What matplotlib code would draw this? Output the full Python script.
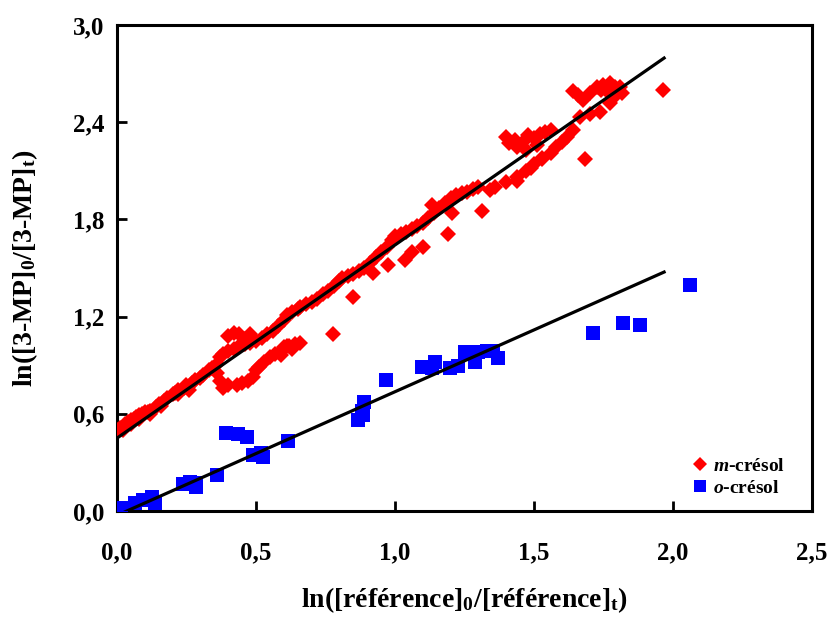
import matplotlib
matplotlib.use("Agg")
import matplotlib.pyplot as plt
import numpy as np
from matplotlib.ticker import FuncFormatter, FixedLocator

plt.rcParams['font.family'] = ['Liberation Serif', 'DejaVu Serif']
plt.rcParams['font.weight'] = 'bold'
plt.rcParams['mathtext.fontset'] = 'custom'
plt.rcParams['mathtext.rm'] = 'Liberation Serif:bold'
plt.rcParams['mathtext.bf'] = 'Liberation Serif:bold'
plt.rcParams['mathtext.it'] = 'Liberation Serif:italic:bold'

# m-crésol data (red diamonds)
m_x = [0.00, 0.01, 0.02, 0.02, 0.03, 0.04, 0.05, 0.05, 0.06, 0.07, 0.08, 0.08, 0.09, 0.10,
       0.11, 0.12, 0.12, 0.14, 0.15, 0.16, 0.17, 0.18, 0.20, 0.21, 0.22, 0.22, 0.24, 0.25,
       0.26, 0.27, 0.28, 0.30, 0.31, 0.33, 0.34, 0.36,
       0.37, 0.38, 0.40, 0.42, 0.44, 0.46, 0.48, 0.50, 0.52, 0.54, 0.56, 0.58, 0.60, 0.61,
       0.63, 0.65, 0.40, 0.42, 0.44, 0.48, 0.46,
       0.37, 0.36, 0.38, 0.40, 0.43, 0.45, 0.47, 0.49, 0.50, 0.51, 0.53, 0.55, 0.57, 0.59,
       0.60, 0.61, 0.62, 0.64, 0.66, 0.59, 0.63,
       0.66, 0.68, 0.70, 0.72, 0.74, 0.76, 0.78, 0.80, 0.81, 0.83, 0.85, 0.87, 0.89, 0.91,
       0.93, 0.95, 0.97, 0.99, 1.00, 1.02, 1.04, 1.06, 1.08, 1.10, 1.12, 1.14, 1.16, 1.18,
       1.20, 1.22, 1.24,
       0.777, 0.85, 0.92, 0.975, 1.036, 1.06, 1.10, 1.19, 1.205, 1.133,
       1.26, 1.28, 1.30, 1.34, 1.36, 1.40, 1.44, 1.47, 1.50, 1.53, 1.56, 1.58, 1.60, 1.62,
       1.313, 1.40, 1.41, 1.43, 1.44, 1.46, 1.48, 1.50, 1.52, 1.54, 1.56, 1.47, 1.51,
       1.44, 1.49, 1.53,
       1.64, 1.665, 1.70, 1.737, 1.773, 1.79,
       1.64, 1.66, 1.676, 1.70, 1.726, 1.75, 1.773, 1.79, 1.81, 1.816, 1.74, 1.76,
       1.683, 1.964]
m_y = [0.50, 0.51, 0.50, 0.52, 0.54, 0.55, 0.54, 0.56, 0.57, 0.58, 0.57, 0.59, 0.60, 0.61,
       0.61, 0.60, 0.62, 0.64, 0.66, 0.65, 0.68, 0.70, 0.72, 0.73, 0.72, 0.75, 0.76, 0.78,
       0.75, 0.79, 0.81, 0.82, 0.84, 0.87, 0.88, 0.91,
       0.95, 0.97, 0.99, 1.00, 1.02, 1.03, 1.04, 1.05, 1.07, 1.09, 1.11, 1.14, 1.18, 1.21,
       1.23, 1.25, 1.08, 1.10, 1.09, 1.09, 1.06,
       0.80, 0.85, 0.76, 0.78, 0.78, 0.79, 0.80, 0.83, 0.87, 0.89, 0.92, 0.95, 0.97, 0.99,
       1.01, 1.02, 1.02, 1.03, 1.04, 0.96, 1.00,
       1.26, 1.28, 1.29, 1.31, 1.34, 1.36, 1.39, 1.42, 1.44, 1.45, 1.46, 1.48, 1.50, 1.53,
       1.57, 1.60, 1.63, 1.67, 1.70, 1.71, 1.72, 1.74, 1.76, 1.78, 1.81, 1.84, 1.87, 1.90,
       1.93, 1.95, 1.96,
       1.09, 1.32, 1.47, 1.52, 1.55, 1.60, 1.63, 1.71, 1.84, 1.89,
       1.97, 1.99, 2.00, 1.98, 2.00, 2.03, 2.06, 2.10, 2.14, 2.17, 2.21, 2.25, 2.28, 2.31,
       1.85, 2.31, 2.27, 2.29, 2.25, 2.28, 2.32, 2.30, 2.33, 2.34, 2.35, 2.23, 2.26,
       2.04, 2.12, 2.18,
       2.35, 2.43, 2.45, 2.46, 2.52, 2.56,
       2.59, 2.57, 2.54, 2.58, 2.62, 2.63, 2.64, 2.62, 2.62, 2.58, 2.60, 2.60,
       2.17, 2.60]

# o-crésol data (blue squares)
o_x = [0.014, 0.065, 0.094, 0.126, 0.137, 0.237, 0.263, 0.284, 0.284, 0.36, 0.392, 0.435,
       0.468, 0.489, 0.525, 0.518, 0.615, 0.867, 0.88, 0.89, 0.885, 0.968, 1.097, 1.133,
       1.144, 1.198, 1.227, 1.252, 1.288, 1.30, 1.33, 1.353, 1.37, 1.713, 1.82, 1.88, 2.06]
o_y = [0.02, 0.05, 0.07, 0.086, 0.05, 0.167, 0.18, 0.17, 0.15, 0.22, 0.48, 0.475,
       0.457, 0.345, 0.333, 0.36, 0.43, 0.56, 0.62, 0.67, 0.59, 0.81, 0.89, 0.88,
       0.92, 0.88, 0.895, 0.98, 0.92, 0.98, 0.99, 0.99, 0.945, 1.10, 1.16, 1.15, 1.395]

# fitted lines (endpoints)
m_fit_x = [0.0, 1.968]
m_fit_y = [0.45, 2.796]
o_fit_x = [0.0, 1.968]
o_fit_y = [-0.027, 1.475]

x_ticks = [0.0, 0.5, 1.0, 1.5, 2.0, 2.5]
y_ticks = [0.0, 0.6, 1.2, 1.8, 2.4, 3.0]

fig = plt.figure(figsize=(8.29, 6.18), dpi=100)
ax = fig.add_axes([117/829, 107/618, 695/829, 486/618])

ax.plot(m_x, m_y, linestyle='none', marker='D', markersize=8, color='#ff0000',
        markeredgewidth=0, label=r'$\mathit{m}$-crésol', zorder=3)
ax.plot(o_x, o_y, linestyle='none', marker='s', markersize=10, color='#0000ff',
        markeredgewidth=0, label=r'$\mathit{o}$-crésol', zorder=3)
ax.plot(m_fit_x, m_fit_y, color='black', linewidth=2.3, zorder=4)
ax.plot(o_fit_x, o_fit_y, color='black', linewidth=2.3, zorder=4)

ax.set_xlim(0, 2.5)
ax.set_ylim(0, 3.0)
ax.xaxis.set_major_locator(FixedLocator(x_ticks))
ax.yaxis.set_major_locator(FixedLocator(y_ticks))
fmt = FuncFormatter(lambda v, p: f"{v:.1f}".replace('.', ','))
ax.xaxis.set_major_formatter(fmt)
ax.yaxis.set_major_formatter(fmt)
ax.tick_params(direction='in', length=7, width=2, labelsize=18)
ax.tick_params(axis='y', pad=9)
ax.tick_params(axis='x', pad=22)
for lab in ax.get_xticklabels() + ax.get_yticklabels():
    lab.set_fontweight('bold')
for sp in ax.spines.values():
    sp.set_linewidth(2.2)

ax.set_xlabel(r'ln([référence]$_0$/[référence]$_\mathrm{t}$)', fontsize=20,
              fontweight='bold')
ax.set_ylabel(r'ln([3-MP]$_0$/[3-MP]$_\mathrm{t}$)', fontsize=20,
              fontweight='bold')
ax.xaxis.set_label_coords(0.5, (107 - 600 + 107) / 486 - 0.0, transform=None) if False else None
ax.xaxis.set_label_coords(0.5, -(600 - 511) / 486)
ax.yaxis.set_label_coords(-(117 - 25) / 695, 0.5)
ax.xaxis.label.set_va('center')
ax.yaxis.label.set_va('center')

leg = ax.legend(loc='center left', bbox_to_anchor=((690 - 117) / 695, (511 - 477) / 486),
                frameon=False,
                prop={'family': 'Liberation Serif', 'weight': 'bold', 'size': 14},
                handletextpad=0.2, labelspacing=0.25, handlelength=1.0, markerscale=0.85,
                borderpad=0, borderaxespad=0)

fig.savefig('out.png', dpi=100)
